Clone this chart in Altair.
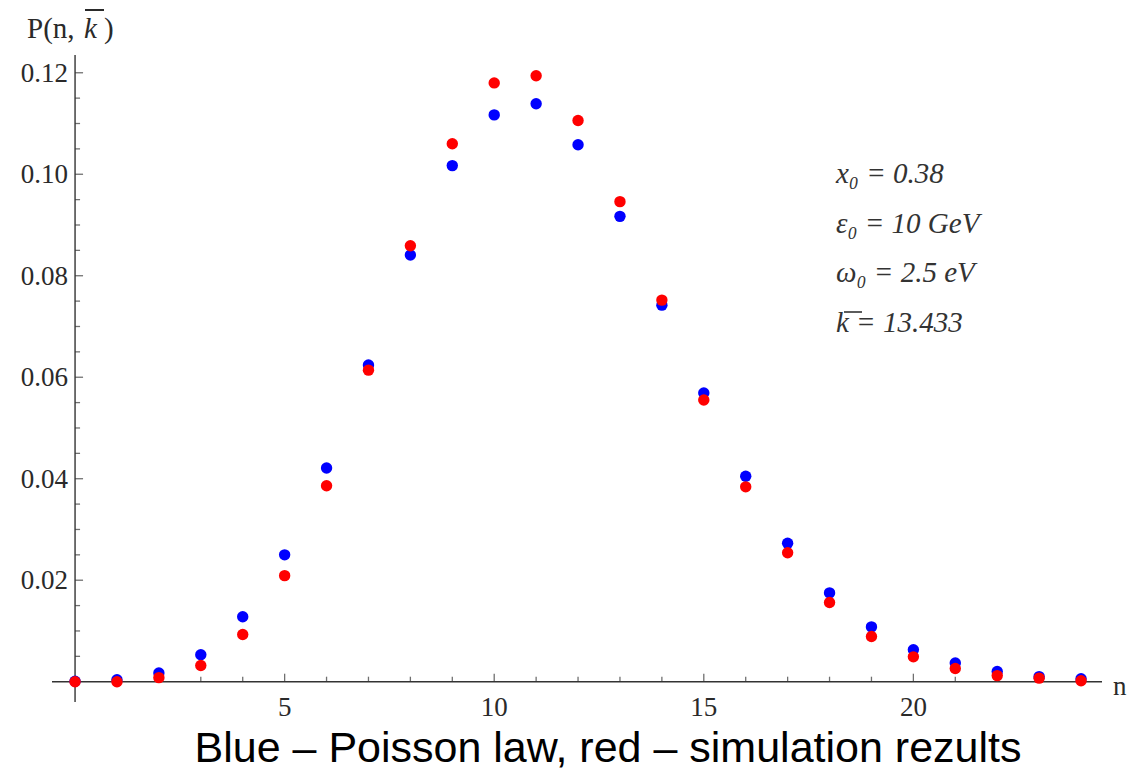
import altair as alt
import pandas as pd

# ---------------- data ----------------
n_values = list(range(25))
poisson = [0.0001, 0.0004, 0.0017, 0.0053, 0.0128, 0.0250, 0.0421, 0.0624, 0.0841,
           0.1017, 0.1117, 0.1139, 0.1058, 0.0917, 0.0742, 0.0569, 0.0405, 0.0273,
           0.0175, 0.0108, 0.0063, 0.0037, 0.0020, 0.0010, 0.0006]
simulation = [0.0000, 0.0000, 0.0008, 0.0032, 0.0093, 0.0209, 0.0386, 0.0614, 0.0859,
              0.1060, 0.1180, 0.1194, 0.1106, 0.0946, 0.0752, 0.0555, 0.0384, 0.0254,
              0.0156, 0.0089, 0.0049, 0.0026, 0.0012, 0.0007, 0.0002]

y_major = [0.02, 0.04, 0.06, 0.08, 0.10, 0.12]
y_labels = ["0.02", "0.04", "0.06", "0.08", "0.10", "0.12"]
y_minor = [0.005, 0.01, 0.015, 0.025, 0.03, 0.035, 0.045, 0.05, 0.055, 0.065, 0.07,
           0.075, 0.085, 0.09, 0.095, 0.105, 0.11, 0.115]
x_major = [5, 10, 15, 20]
x_labels = ["5", "10", "15", "20"]
x_minor = [1, 2, 3, 4, 6, 7, 8, 9, 11, 12, 13, 14, 16, 17, 18, 19, 21, 22, 23, 24]

annotations = ["x\u2080 = 0.38", "\u03b5\u2080 = 10 GeV", "\u03c9\u2080 = 2.5 eV", "k = 13.433"]
caption = "Blue \u2013 Poisson law, red \u2013 simulation rezults"

# ---------------- layout ----------------
W, H = 1050, 647
x_dom = [-0.55, 24.5]
y_dom = [-0.004, 0.1235]
SERIF = "Liberation Serif"
AX = "#333333"
ann_y = [128, 178, 227, 277]

xs = alt.Scale(domain=x_dom, nice=False, zero=False)
ys = alt.Scale(domain=y_dom, nice=False, zero=False)

pts = pd.DataFrame({"n": n_values, "poisson": poisson, "sim": simulation})
ymaj = pd.DataFrame({"v": y_major, "lab": y_labels, "z": 0.0})
ymin = pd.DataFrame({"v": y_minor, "z": 0.0})
xmaj = pd.DataFrame({"v": x_major, "lab": x_labels, "z": 0.0})
xmin = pd.DataFrame({"v": x_minor, "z": 0.0})
one = pd.DataFrame({"z": [0.0]})

base = alt.Chart(pts)
single = alt.Chart(one)

blue = base.mark_circle(size=130, color="#0000ff", opacity=1).encode(
    x=alt.X("n:Q", scale=xs, axis=None), y=alt.Y("poisson:Q", scale=ys, axis=None))
red = base.mark_circle(size=130, color="#ff0000", opacity=1).encode(
    x=alt.X("n:Q", scale=xs, axis=None), y=alt.Y("sim:Q", scale=ys, axis=None))

x_axis = single.mark_rule(color=AX, strokeWidth=1.4).encode(
    x=alt.value(0), x2=alt.value(W), y=alt.Y("z:Q", scale=ys, axis=None))
y_axis = single.mark_rule(color=AX, strokeWidth=1.4).encode(
    x=alt.X("z:Q", scale=xs, axis=None), y=alt.value(0), y2=alt.value(H))

xt_major = alt.Chart(xmaj).mark_tick(color=AX, orient="vertical", size=8, thickness=1.3, yOffset=-4).encode(
    x=alt.X("v:Q", scale=xs, axis=None), y=alt.Y("z:Q", scale=ys, axis=None))
xt_minor = alt.Chart(xmin).mark_tick(color=AX, orient="vertical", size=5, thickness=1.3, yOffset=-2.5).encode(
    x=alt.X("v:Q", scale=xs, axis=None), y=alt.Y("z:Q", scale=ys, axis=None))
yt_major = alt.Chart(ymaj).mark_tick(color=AX, orient="horizontal", size=8, thickness=1.3, xOffset=4).encode(
    y=alt.Y("v:Q", scale=ys, axis=None), x=alt.X("z:Q", scale=xs, axis=None))
yt_minor = alt.Chart(ymin).mark_tick(color=AX, orient="horizontal", size=5, thickness=1.3, xOffset=2.5).encode(
    y=alt.Y("v:Q", scale=ys, axis=None), x=alt.X("z:Q", scale=xs, axis=None))

y_text = alt.Chart(ymaj).mark_text(font=SERIF, fontSize=27, align="right", baseline="alphabetic",
                                   dx=-7, dy=9, color="#2a2a2a").encode(
    y=alt.Y("v:Q", scale=ys, axis=None), x=alt.X("z:Q", scale=xs, axis=None), text="lab:N")
x_text = alt.Chart(xmaj).mark_text(font=SERIF, fontSize=27, align="center", baseline="alphabetic",
                                   dy=34, color="#2a2a2a").encode(
    x=alt.X("v:Q", scale=xs, axis=None), y=alt.Y("z:Q", scale=ys, axis=None), text="lab:N")

def label(txt, x, y, size=27, style="normal", font=SERIF, color="#2a2a2a", align="left"):
    return single.mark_text(font=font, fontSize=size, fontStyle=style, align=align,
                            baseline="alphabetic", color=color, text=txt).encode(
        x=alt.value(x), y=alt.value(y))

n_title = label("n", 1061, 640)
p1 = label("P(n,", -25, -17, size=29)
p2 = label("k", 32, -17, size=29, style="italic")
p3 = label(")", 52, -17, size=29)
p_bar = single.mark_rule(color="#2a2a2a", strokeWidth=2).encode(
    x=alt.value(33), x2=alt.value(52), y=alt.value(-45))

ann_layers = [label(t, 784, yy, size=29, style="italic", color="#333") for t, yy in zip(annotations, ann_y)]
k_bar = single.mark_rule(color="#333", strokeWidth=1.6).encode(
    x=alt.value(792), x2=alt.value(810), y=alt.value(257))

cap = label(caption, 556, 707, size=43, font="Liberation Sans", color="#000", align="center")

chart = alt.layer(
    x_axis, y_axis, xt_major, xt_minor, yt_major, yt_minor, y_text, x_text,
    blue, red, n_title, p1, p2, p3, p_bar, *ann_layers, k_bar, cap
).properties(
    width=W, height=H,
    autosize=alt.AutoSizeParams(type="none"),
    padding={"left": 52, "top": 55, "right": 28, "bottom": 68},
    background="white",
).configure_view(stroke=None)

chart.save("out.html", embed_options={"renderer": "svg", "actions": False})
